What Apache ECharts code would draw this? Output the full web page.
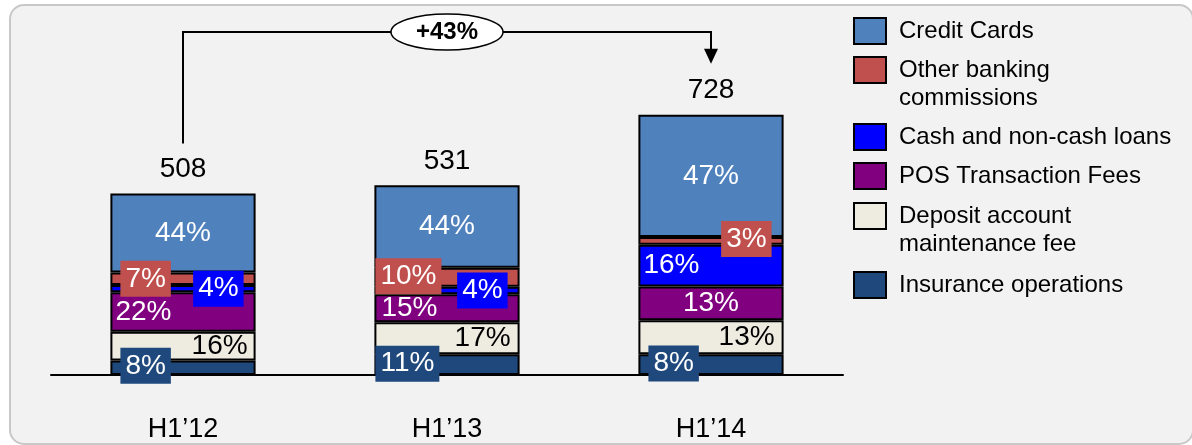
<!DOCTYPE html>
<html><head><meta charset="utf-8">
<script src="https://cdn.jsdelivr.net/npm/echarts@6/dist/echarts.min.js"></script>
<style>html,body{margin:0;padding:0;background:#fff}#c{width:1192px;height:445px}</style>
</head><body><div id="c"></div>
<script>
// ---- data ----
const categories = ['H1\u201912', 'H1\u201913', 'H1\u201914'];
const totals = [508, 531, 728];
const insurancePct = [8, 11, 8];
const depositPct = [16, 17, 13];
const posPct = [22, 15, 13];
const cashPct = [4, 4, 16];
const otherPct = [7, 10, 3];
const creditPct = [44, 44, 47];

// ---- styling ----
const FONT = 'Arial, "Liberation Sans", sans-serif';
const seriesDefs = [
  { name: 'Insurance operations', pct: insurancePct, color: '#1f497d', text: '#ffffff' },
  { name: 'Deposit account maintenance fee', pct: depositPct, color: '#eeece1', text: '#000000' },
  { name: 'POS Transaction Fees', pct: posPct, color: '#800080', text: '#ffffff' },
  { name: 'Cash and non-cash loans', pct: cashPct, color: '#0000ff', text: '#ffffff' },
  { name: 'Other banking commissions', pct: otherPct, color: '#c0504d', text: '#ffffff' },
  { name: 'Credit Cards', pct: creditPct, color: '#4f81bd', text: '#ffffff' }
];
const labelPlacement = {
  'Insurance operations': [{pos:'insideLeft',d:10,box:true,dy:-2},{pos:'insideLeft',d:1,box:true,dy:-1},{pos:'insideLeft',d:10,box:true,dy:-1}],
  'Deposit account maintenance fee': [{pos:'insideRight',d:8},{pos:'insideRight',d:9},{pos:'insideRight',d:9}],
  'POS Transaction Fees': [{pos:'insideLeft',d:5},{pos:'insideLeft',d:7},{pos:'inside'}],
  'Cash and non-cash loans': [{pos:'insideRight',d:12,box:true},{pos:'insideRight',d:12,box:true},{pos:'insideLeft',d:5}],
  'Other banking commissions': [{pos:'insideLeft',d:10,box:true},{pos:'insideLeft',d:1,box:true,dy:-1},{pos:'insideRight',d:12,box:true,dy:-2}],
  'Credit Cards': [{pos:'inside'},{pos:'inside'},{pos:'inside'}]
};
const legendOrder = ['Credit Cards','Other banking commissions','Cash and non-cash loans','POS Transaction Fees','Deposit account maintenance fee','Insurance operations'];
const legendText = {
  'Other banking commissions': 'Other banking\ncommissions',
  'Deposit account maintenance fee': 'Deposit account\nmaintenance fee'
};
const legendSymbolTop = [18, 57, 124, 163, 203, 272];

const pctSums = categories.map((c, i) => seriesDefs.reduce((s, d) => s + d.pct[i], 0));

function buildLabel(def, i) {
  const p = labelPlacement[def.name][i];
  const lab = { show: true, position: p.pos, formatter: def.pct[i] + '%', fontSize: 28,
    fontFamily: FONT, color: def.text, lineHeight: 30 };
  if (p.d != null) lab.distance = p.d;
  if (p.box) { lab.backgroundColor = def.color; lab.padding = [3, 5]; }
  if (p.dy) lab.offset = [0, p.dy];
  return lab;
}

const series = seriesDefs.map(def => ({
  name: def.name,
  type: 'bar',
  stack: 'total',
  barWidth: '55%',
  itemStyle: { color: def.color, borderColor: '#000', borderWidth: 2 },
  emphasis: { disabled: true },
  data: categories.map((c, i) => ({
    value: totals[i] * def.pct[i] / pctSums[i],
    label: buildLabel(def, i)
  }))
}));
series.push({
  name: 'Total',
  type: 'scatter',
  symbolSize: 0,
  itemStyle: { color: '#000000', opacity: 1 },
  label: { show: true, position: 'top', distance: 10, fontSize: 28, fontFamily: FONT, color: '#000000',
    opacity: 1, formatter: p => String(p.value) },
  emphasis: { disabled: true },
  data: totals,
  z: 10
});

const legends = legendOrder.map((name, k) => {
  const twoLine = !!legendText[name];
  return {
    data: [name],
    orient: 'vertical',
    left: 853,
    top: legendSymbolTop[k] - (twoLine ? 29 : 1),
    padding: 0,
    icon: 'rect',
    itemWidth: 32,
    itemHeight: 26,
    selectedMode: false,
    // a leading empty line keeps the first text line level with the swatch
    formatter: n => legendText[n] ? '\n' + legendText[n] : n,
    itemStyle: { borderColor: '#000', borderWidth: 2 },
    textStyle: { fontSize: 24, fontFamily: FONT, color: '#000', lineHeight: 28, padding: [0, 0, 0, 8] }
  };
});

const chart = echarts.init(document.getElementById('c'), null, { renderer: 'canvas' });
chart.setOption({
  backgroundColor: '#ffffff',
  animation: false,
  textStyle: { fontFamily: FONT },
  grid: { left: 51, width: 792, top: 89, bottom: 70, containLabel: false, outerBoundsMode: 'none' },
  legend: legends,
  xAxis: {
    type: 'category', data: categories,
    axisLine: { show: true, lineStyle: { color: '#000', width: 2 } },
    axisTick: { show: false },
    axisLabel: { fontSize: 27, fontFamily: FONT, color: '#000', margin: 41 }
  },
  yAxis: { type: 'value', min: 0, max: 800, show: false, splitLine: { show: false } },
  series: series
});

// ---- annotations (positions derived from the axes) ----
const p0 = chart.convertToPixel({ gridIndex: 0 }, [0, totals[0]]);
const p2 = chart.convertToPixel({ gridIndex: 0 }, [2, totals[2]]);
const growth = '+' + Math.round((totals[2] / totals[0] - 1) * 100) + '%';
const lineY = 32;
const tipY = p2[1] - 51;
const midX = (p0[0] + p2[0]) / 2;
chart.setOption({
  graphic: [
    { type: 'rect', z: -100, silent: true,
      shape: { x: 10, y: 5, width: 1183, height: 439, r: 14 },
      style: { fill: '#f2f2f2', stroke: '#c8c8c8', lineWidth: 2 } },
    { type: 'polyline', z: 50, silent: true,
      shape: { points: [[p0[0], p0[1] - 50], [p0[0], lineY], [p2[0], lineY], [p2[0], tipY - 14]] },
      style: { stroke: '#000', lineWidth: 2, fill: null } },
    { type: 'polygon', z: 50, silent: true,
      shape: { points: [[p2[0] - 7, tipY - 15], [p2[0] + 7, tipY - 15], [p2[0], tipY]] },
      style: { fill: '#000' } },
    { type: 'ellipse', z: 51, silent: true,
      shape: { cx: midX, cy: lineY, rx: 56, ry: 18 },
      style: { fill: '#ffffff', stroke: '#000', lineWidth: 1.5 } },
    { type: 'text', z: 52, silent: true, x: midX, y: lineY,
      style: { text: growth, fontSize: 24, fontWeight: 'bold', fontFamily: FONT, fill: '#000',
        align: 'center', verticalAlign: 'middle' } }
  ]
});
</script></body></html>
